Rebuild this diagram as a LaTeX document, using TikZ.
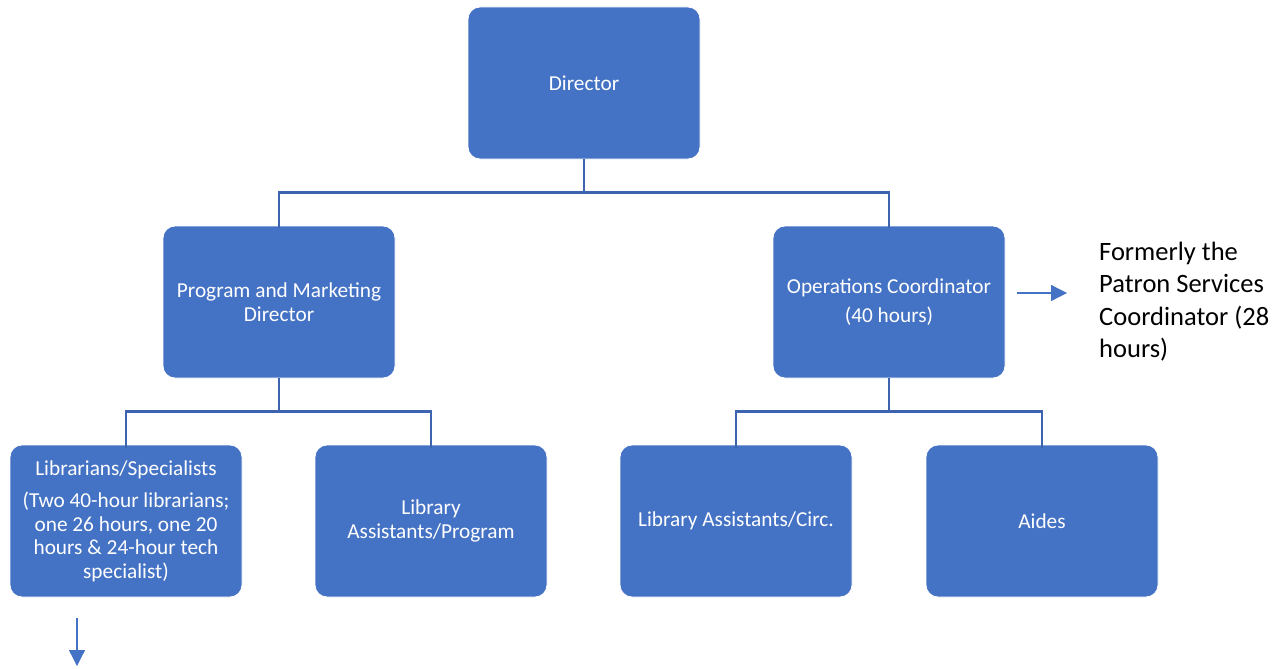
\documentclass[tikz,border=0pt]{standalone}
\usepackage{fontspec}
\setmainfont{Carlito}
\usetikzlibrary{arrows.meta,calc}
\definecolor{boxblue}{HTML}{4472C4}
\definecolor{linkblue}{HTML}{3D64AE}
\begin{document}
\begin{tikzpicture}[x=1pt,y=-1pt,
  orgbox/.style={draw=white, line width=0.8pt, fill=boxblue, rounded corners=12pt,
    minimum width=232pt, minimum height=152pt, inner sep=0pt, align=center,
    text=white, font=\fontsize{21.3}{23.5}\selectfont},
  link/.style={draw=linkblue, line width=2.6pt},
  note/.style={draw=boxblue, line width=1.3pt, -{Triangle[length=16pt,width=16pt]}},
  sidetext/.style={align=left, inner sep=0pt, text=black, font=\fontsize{26.5}{32.5}\selectfont}]
\useasboundingbox (0,0) rectangle (1283,669);
\node[orgbox] (dir) at (584,83) {Director};
\node[orgbox] (pm) at (279,302) {Program and Marketing\\Director};
\node[orgbox] (ops) at (889,302) {Operations Coordinator\\[6pt](40 hours)};
\node[orgbox] (lib) at (126,521) {Librarians/Specialists\\[9pt](Two 40-hour librarians;\\one 26 hours, one 20\\hours \& 24-hour tech\\specialist)};
\node[orgbox] (lap) at (431,521) {Library\\Assistants/Program};
\node[orgbox] (lac) at (736,521) {Library Assistants/Circ.};
\node[orgbox] (aid) at (1042,521) {Aides};
\node[sidetext, anchor=west] (side) at (1099,301.5) {Formerly the\\Patron Services\\Coordinator (28\\hours)};
\coordinate (j1) at ($(dir.south)!0.5!(dir.south |- pm.north)$);
\coordinate (j2) at ($(pm.south)!0.5!(pm.south |- lib.north)$);
\coordinate (j3) at ($(ops.south)!0.5!(ops.south |- lac.north)$);
\draw[link] (dir.south) -- (j1);
\draw[link] ([yshift=-2pt]pm.north) |- (j1) -| ([yshift=-2pt]ops.north);
\draw[link] (pm.south) -- (j2);
\draw[link] ([yshift=-3pt]lib.north) |- (j2) -| ([yshift=-3pt]lap.north);
\draw[link] (ops.south) -- (j3);
\draw[link] ([yshift=-3pt]lac.north) |- (j3) -| ([yshift=-3pt]aid.north);
\coordinate (a1) at (1017,293);
\coordinate (a2) at (1067,293);
\draw[note] (a1) -- (a2);
\coordinate (b1) at (77,618);
\coordinate (b2) at (77,666);
\draw[note] (b1) -- (b2);
\end{tikzpicture}
\end{document}
